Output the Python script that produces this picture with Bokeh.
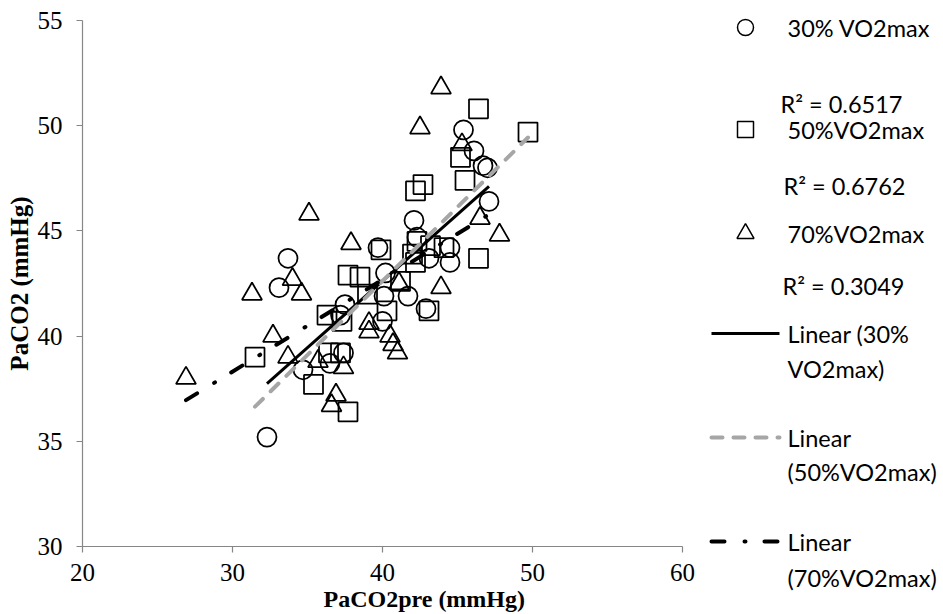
from bokeh.plotting import figure
from bokeh.layouts import row
from bokeh.models import Range1d, FixedTicker, Title
from bokeh.embed import file_html
from bokeh.resources import INLINE
from bokeh.core.properties import value

# ---------------- data ----------------
x30 = [32.3, 33.7, 33.1, 34.7, 36.5, 37.4, 37.2, 37.5, 40.0, 40.1, 41.7, 40.2,
       39.7, 42.9, 43.1, 44.5, 44.5, 42.3, 42.1, 47.1, 45.4, 46.1, 46.7, 47.0]
y30 = [35.2, 43.7, 42.3, 38.4, 38.7, 39.2, 41.0, 41.5, 40.7, 41.9, 41.9, 43.0,
       44.2, 41.3, 43.7, 43.5, 44.2, 44.7, 45.5, 46.4, 49.8, 48.8, 48.1, 48.0]

x50 = [31.5, 35.4, 37.7, 36.4, 37.2, 36.3, 37.3, 37.7, 38.5, 39.0, 40.3, 41.2, 43.1,
       39.9, 42.0, 42.2, 42.3, 43.2, 44.1, 46.4, 42.2, 42.7, 45.5, 45.2, 46.4, 49.7]
y50 = [39.0, 37.7, 36.4, 39.2, 39.2, 41.0, 40.7, 42.9, 42.8, 42.0, 41.2, 42.6, 41.2,
       44.1, 43.9, 43.5, 44.5, 44.3, 44.2, 43.7, 46.9, 47.2, 47.4, 48.5, 50.8, 49.7]

x70 = [26.9, 31.3, 32.7, 33.7, 34.0, 34.6, 35.1, 35.7, 36.6, 36.9, 37.4, 37.9,
       39.1, 39.1, 40.5, 40.7, 41.0, 41.1, 43.9, 42.5, 43.9, 45.3, 46.5, 47.8]
y70 = [38.0, 42.0, 40.0, 39.0, 42.7, 42.0, 45.8, 38.8, 36.7, 37.2, 38.5, 44.4,
       40.6, 40.2, 40.0, 39.6, 39.2, 42.5, 42.3, 49.9, 51.8, 49.1, 45.6, 44.8]

series_names = ["30% VO2max", "50%VO2max", "70%VO2max"]
trend_slope = [0.633, 0.703, 0.437]
trend_intercept = [17.3, 14.5, 25.2]
r2_labels = ["R\u00b2 = 0.6517", "R\u00b2 = 0.6762", "R\u00b2 = 0.3049"]
trend_labels = [["Linear (30%", "VO2max)"], ["Linear", "(50%VO2max)"], ["Linear", "(70%VO2max)"]]
x_ticks = [20, 30, 40, 50, 60]
y_ticks = [30, 35, 40, 45, 50, 55]

AXIS_GRAY = "#868686"
TREND_GRAY = "#A6A6A6"
SERIF = "Liberation Serif"
SANS = "Lato"

# ---------------- main plot ----------------
p = figure(width=700, height=614, x_range=Range1d(20, 60), y_range=Range1d(30, 55),
           output_backend="svg", toolbar_location=None, title=None, frame_align=False,
           min_border_left=82, min_border_right=18, min_border_top=20, min_border_bottom=68)
p.grid.visible = False
p.outline_line_color = None
p.background_fill_color = "white"
p.border_fill_color = "white"

p.xaxis.ticker = FixedTicker(ticks=x_ticks)
p.yaxis.ticker = FixedTicker(ticks=y_ticks)
for ax in (p.xaxis[0], p.yaxis[0]):
    ax.axis_line_color = AXIS_GRAY
    ax.axis_line_width = 1.2
    ax.major_tick_line_color = AXIS_GRAY
    ax.major_tick_line_width = 1.2
    ax.minor_tick_line_color = None
    ax.major_tick_out = 6
    ax.major_tick_in = 0
    ax.major_label_text_font = SERIF
    ax.major_label_text_font_size = "25px"
    ax.major_label_text_color = "black"
p.xaxis.major_label_standoff = 11
p.yaxis.major_label_standoff = 14

p.yaxis.axis_label = "PaCO2 (mmHg)"
p.yaxis.axis_label_text_font = SERIF
p.yaxis.axis_label_text_font_style = "bold"
p.yaxis.axis_label_text_font_size = "25px"
p.yaxis.axis_label_text_color = "black"
p.yaxis.axis_label_standoff = 2

p.add_layout(Title(text="PaCO2pre (mmHg)", align="left", offset=241, standoff=0,
                   text_font=SERIF, text_font_style="bold", text_font_size="24px",
                   text_color="black"), "below")

MARK = dict(fill_color=None, line_color="black", line_width=1.75)
p.scatter(x30, y30, marker="circle", size=19, **MARK)
p.scatter(x50, y50, marker="square", size=19, **MARK)
p.scatter(x70, y70, marker="triangle", size=20, **MARK)

line_styles = [
    dict(line_color="black", line_width=3),
    dict(line_color=TREND_GRAY, line_width=4, line_dash="11 11", line_cap="round"),
    dict(line_color="black", line_width=4, line_dash="13 20 1 19", line_cap="round"),
]
for xs_, k, b, st in zip([x30, x50, x70], trend_slope, trend_intercept, line_styles):
    xe = [min(xs_), max(xs_)]
    ye = [k * v + b for v in xe]
    p.line(xe, ye, **st)

# ---------------- legend panel (layout in pixel coordinates) ----------------
lg = figure(width=243, height=614, x_range=Range1d(700, 943), y_range=Range1d(614, 0),
            output_backend="svg", toolbar_location=None, title=None, frame_align=False,
            x_axis_location=None, y_axis_location=None, min_border=0)
lg.grid.visible = False
lg.outline_line_color = None
lg.background_fill_color = "white"
lg.border_fill_color = "white"

TXT = dict(text_font=value(SANS), text_font_size="23.5px", text_color="black",
           text_baseline="middle", text_align="left")
KEY_X = 745
TEXT_X = 787
marker_rows = [27, 129, 233]
r2_rows = [(780, 103), (783, 185), (782, 285)]
markers = ["circle", "square", "triangle"]
msizes = [16, 16, 17]
for m, sz, yy, name in zip(markers, msizes, marker_rows, series_names):
    lg.scatter([KEY_X], [yy], marker=m, size=sz, fill_color=None, line_color="black", line_width=1.5)
    lg.text([TEXT_X], [yy], text=[name], **TXT)
for (rx, ry), t in zip(r2_rows, r2_labels):
    lg.text([rx], [ry], text=[t], **TXT)

line_rows = [(333, 368), (437, 471), (541, 577)]
for (y1, y2), st, (l1, l2) in zip(line_rows, line_styles, trend_labels):
    lg.line([711, 779], [y1, y1], **st)
    lg.text([TEXT_X], [y1], text=[l1], **TXT)
    lg.text([TEXT_X], [y2], text=[l2], **TXT)

layout = row(p, lg)
open("out.html", "w").write(file_html(layout, INLINE))
